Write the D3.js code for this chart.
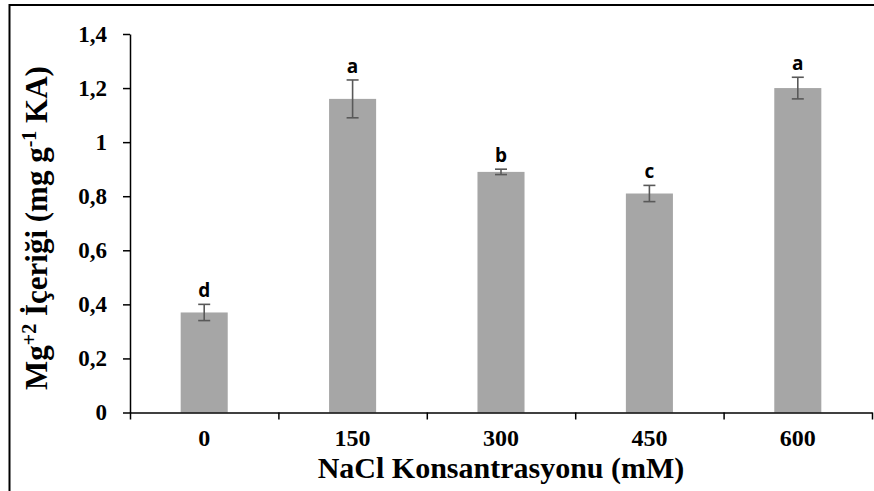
<!DOCTYPE html>
<html>
<head>
<meta charset="utf-8">
<script src="https://cdn.jsdelivr.net/npm/d3@7"></script>
<style>
  html, body { margin: 0; padding: 0; background: #fff; }
  svg { display: block; }
</style>
</head>
<body>
<svg id="chart" width="874" height="491"></svg>
<script>
// NaCl concentrations (mM) and Mg+2 content
const categories = ["0", "150", "300", "450", "600"];
const values = [0.37, 1.16, 0.89, 0.81, 1.20];
const errors = [0.03, 0.07, 0.01, 0.03, 0.04];
const groupLetters = ["d", "a", "b", "c", "a"];
const yTicks = [0, 0.2, 0.4, 0.6, 0.8, 1.0, 1.2, 1.4];
const yTickLabels = ["0", "0,2", "0,4", "0,6", "0,8", "1", "1,2", "1,4"];

const svg = d3.select("#chart");
const W = 874, H = 491;
const m = { left: 130, right: 872, top: 34, bottom: 412.5 };

const serif = "'Liberation Serif', 'Times New Roman', serif";
const sans = "'Open Sans', 'Liberation Sans', Arial, sans-serif";

svg.append("rect").attr("width", W).attr("height", H).attr("fill", "#fff");

// outer frame (top and left edges visible)
svg.append("rect")
  .attr("x", 9.5).attr("y", 5)
  .attr("width", 1000).attr("height", 1000)
  .attr("fill", "none").attr("stroke", "#000").attr("stroke-width", 2);

const x = d3.scaleBand().domain(categories).range([m.left, m.right]).padding(0);
const y = d3.scaleLinear().domain([0, 1.4]).range([m.bottom, m.top]);
const barW = x.bandwidth() * 0.317;

// bars
svg.append("g").selectAll("rect").data(values).join("rect")
  .attr("x", (d, i) => x(categories[i]) + x.bandwidth() / 2 - barW / 2)
  .attr("y", d => y(d))
  .attr("width", barW)
  .attr("height", d => y(0) - y(d))
  .attr("fill", "#a6a6a6");

// error bars
const eb = svg.append("g").attr("stroke", "#595959").attr("stroke-width", 1.6);
values.forEach((v, i) => {
  const cx = x(categories[i]) + x.bandwidth() / 2;
  const hi = y(v + errors[i]), lo = y(v - errors[i]);
  eb.append("line").attr("x1", cx).attr("x2", cx).attr("y1", hi).attr("y2", lo);
  eb.append("line").attr("x1", cx - 6).attr("x2", cx + 6).attr("y1", hi).attr("y2", hi);
  eb.append("line").attr("x1", cx - 6).attr("x2", cx + 6).attr("y1", lo).attr("y2", lo);
});

// significance letters
svg.append("g").selectAll("text").data(groupLetters).join("text")
  .attr("x", (d, i) => x(categories[i]) + x.bandwidth() / 2)
  .attr("y", (d, i) => y(values[i] + errors[i]) - 7)
  .attr("text-anchor", "middle")
  .attr("font-family", sans).attr("font-weight", 700).attr("font-size", 19)
  .attr("fill", "#000")
  .text(d => d);

// y axis
const yAxis = d3.axisLeft(y)
  .tickValues(yTicks)
  .tickFormat((d, i) => yTickLabels[i])
  .tickSize(7).tickSizeOuter(0).tickPadding(16);
const gy = svg.append("g").attr("transform", `translate(${m.left},0)`).call(yAxis);
gy.selectAll("path, line").attr("stroke", "#000").attr("stroke-width", 1.5);
gy.selectAll("text")
  .attr("font-family", serif).attr("font-weight", 700).attr("font-size", 23)
  .attr("fill", "#000");

// x axis: boundary ticks between categories
const xEdges = d3.scaleLinear().domain([0, categories.length]).range([m.left, m.right]);
const xAxis = d3.axisBottom(xEdges)
  .tickValues(d3.range(categories.length + 1))
  .tickFormat("").tickSize(7).tickSizeOuter(0);
const gx = svg.append("g").attr("transform", `translate(0,${m.bottom})`).call(xAxis);
gx.selectAll("path, line").attr("stroke", "#000").attr("stroke-width", 1.5);

// category labels
svg.append("g").selectAll("text").data(categories).join("text")
  .attr("x", d => x(d) + x.bandwidth() / 2)
  .attr("y", 446)
  .attr("text-anchor", "middle")
  .attr("font-family", serif).attr("font-weight", 700).attr("font-size", 24)
  .attr("fill", "#000")
  .text(d => d);

// axis titles
svg.append("text")
  .attr("x", 501).attr("y", 478)
  .attr("text-anchor", "middle")
  .attr("font-family", serif).attr("font-weight", 700).attr("font-size", 30)
  .attr("fill", "#000")
  .text("NaCl Konsantrasyonu (mM)");

const yt = svg.append("text")
  .attr("transform", "translate(47,228) rotate(-90)")
  .attr("text-anchor", "middle")
  .attr("font-family", serif).attr("font-weight", 700).attr("font-size", 31)
  .attr("fill", "#000");
yt.append("tspan").text("Mg");
yt.append("tspan").attr("baseline-shift", "super").attr("font-size", 20).text("+2");
yt.append("tspan").text(" İçeriği (mg g");
yt.append("tspan").attr("baseline-shift", "super").attr("font-size", 20).text("-1");
yt.append("tspan").text(" KA)");
</script>
</body>
</html>
